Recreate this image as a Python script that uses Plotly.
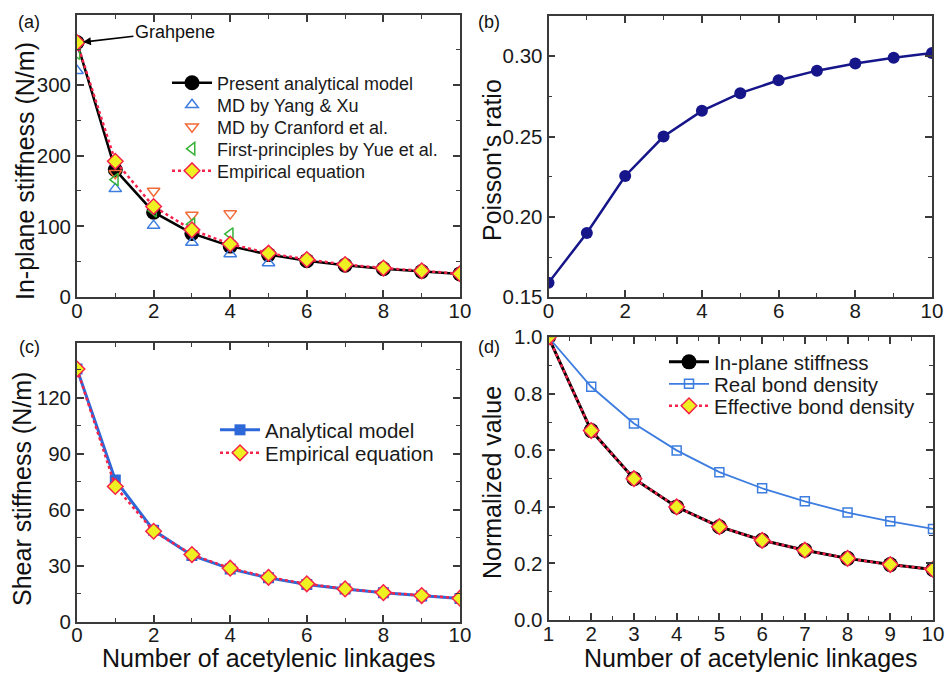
import plotly.graph_objects as go

# ---------------- data ----------------
n_a = [0, 1, 2, 3, 4, 5, 6, 7, 8, 9, 10]
present_model = [360, 180, 120, 90, 72, 60, 51.4, 45, 40, 36, 32.7]
empirical_a = [360, 192, 128, 95, 75, 62, 53, 46, 41, 37, 33]
yang_x = [0, 1, 2, 3, 4, 5]
yang_y = [320, 153, 101, 77, 61, 48]
cranford_x = [1, 2, 3, 4]
cranford_y = [175, 150, 116, 118]
yue_x = [0, 1, 2, 3, 4]
yue_y = [345, 166, 122, 103, 89]

n_b = [0, 1, 2, 3, 4, 5, 6, 7, 8, 9, 10]
poisson = [0.159, 0.190, 0.2255, 0.250, 0.266, 0.277, 0.285, 0.291, 0.2955, 0.299, 0.302]

n_c = [0, 1, 2, 3, 4, 5, 6, 7, 8, 9, 10]
shear_model = [135.5, 76, 49, 35.5, 28.3, 23.5, 20, 17.5, 15.5, 13.8, 12.4]
shear_empirical = [135.5, 72.5, 48.5, 36, 28.7, 23.8, 20.3, 17.6, 15.6, 14, 12.6]

n_d = [1, 2, 3, 4, 5, 6, 7, 8, 9, 10]
inplane_norm = [1.0, 0.67, 0.5, 0.4, 0.33, 0.282, 0.247, 0.218, 0.196, 0.179]
real_bond = [1.0, 0.825, 0.695, 0.60, 0.523, 0.466, 0.42, 0.38, 0.349, 0.322]
effective_bond = [1.0, 0.67, 0.5, 0.4, 0.33, 0.282, 0.247, 0.218, 0.196, 0.179]

# ---------------- styles ----------------
FONT = "Liberation Sans, Arial, sans-serif"
RED = "#f5234b"
YEL = "#eef021"
BLUE_T = "#3d7de0"
ORANGE_T = "#f26b3a"
GREEN_T = "#36b236"
BLUE_C = "#2d68d8"
NAVY = "#16168a"
FRAME = "#3a3a3a"

W, H = 945, 673

def px_x(p):
    return p / W

def px_y(p):
    return 1 - p / H

fig = go.Figure()

# ---- panel (a)
fig.add_trace(go.Scatter(x=n_a, y=present_model, mode="lines+markers", name="Present analytical model",
                         line=dict(color="black", width=2.5),
                         marker=dict(symbol="circle", size=15, color="black"),
                         xaxis="x", yaxis="y", legend="legend"))
fig.add_trace(go.Scatter(x=yang_x, y=yang_y, mode="markers", name="MD by Yang &amp; Xu",
                         marker=dict(symbol="triangle-up-open", size=11, color=BLUE_T, line=dict(width=1.5)),
                         xaxis="x", yaxis="y", legend="legend2"))
fig.add_trace(go.Scatter(x=cranford_x, y=cranford_y, mode="markers", name="MD by Cranford et al.",
                         marker=dict(symbol="triangle-down-open", size=11, color=ORANGE_T, line=dict(width=1.5)),
                         xaxis="x", yaxis="y", legend="legend3"))
fig.add_trace(go.Scatter(x=yue_x, y=yue_y, mode="markers", name="First-principles by Yue et al.",
                         marker=dict(symbol="triangle-left-open", size=11, color=GREEN_T, line=dict(width=1.5)),
                         xaxis="x", yaxis="y", legend="legend4"))
fig.add_trace(go.Scatter(x=n_a, y=empirical_a, mode="lines+markers", name="Empirical equation",
                         line=dict(color=RED, width=2.5, dash="dot"),
                         marker=dict(symbol="diamond", size=12, color=YEL, line=dict(color=RED, width=1.5)),
                         xaxis="x", yaxis="y", legend="legend5"))

# ---- panel (b)
fig.add_trace(go.Scatter(x=n_b, y=poisson, mode="lines+markers", name="Poisson",
                         line=dict(color=NAVY, width=2.5),
                         marker=dict(symbol="circle", size=12, color=NAVY),
                         xaxis="x2", yaxis="y2", showlegend=False))

# ---- panel (c)
fig.add_trace(go.Scatter(x=n_c, y=shear_model, mode="lines+markers", name="Analytical model",
                         line=dict(color=BLUE_C, width=3),
                         marker=dict(symbol="square", size=11, color=BLUE_C),
                         xaxis="x3", yaxis="y3", legend="legend6"))
fig.add_trace(go.Scatter(x=n_c, y=shear_empirical, mode="lines+markers", name="Empirical equation",
                         line=dict(color=RED, width=2.5, dash="dot"),
                         marker=dict(symbol="diamond", size=12, color=YEL, line=dict(color=RED, width=1.5)),
                         xaxis="x3", yaxis="y3", legend="legend7"))

# ---- panel (d)
fig.add_trace(go.Scatter(x=n_d, y=inplane_norm, mode="lines+markers", name="In-plane stiffness",
                         line=dict(color="black", width=3),
                         marker=dict(symbol="circle", size=15, color="black"),
                         xaxis="x4", yaxis="y4", legend="legend8"))
fig.add_trace(go.Scatter(x=n_d, y=real_bond, mode="lines+markers", name="Real bond density",
                         line=dict(color=BLUE_T, width=1.8),
                         marker=dict(symbol="square-open", size=9, color=BLUE_T, line=dict(width=1.5)),
                         xaxis="x4", yaxis="y4", legend="legend9"))
fig.add_trace(go.Scatter(x=n_d, y=effective_bond, mode="lines+markers", name="Effective bond density",
                         line=dict(color=RED, width=2.5, dash="dot"),
                         marker=dict(symbol="diamond", size=12, color=YEL, line=dict(color=RED, width=1.5)),
                         xaxis="x4", yaxis="y4", legend="legend10"))


def axis(domain, rng, dtick, minor, anchor, tick0, fmt=None, is_x=False):
    d = dict(domain=domain, range=rng, dtick=dtick, tick0=tick0, automargin=False,
             ticks="inside", ticklen=7, tickwidth=1.5, tickcolor=FRAME,
             minor=dict(dtick=minor, tick0=tick0, ticks="inside", ticklen=4, tickwidth=1.2,
                        tickcolor=FRAME, showgrid=False),
             showline=True, linewidth=1.8, linecolor=FRAME, mirror="allticks",
             showgrid=False, zeroline=False, anchor=anchor, ticklabeloverflow="allow",
             tickfont=dict(family=FONT, size=20.5, color="#1a1a1a"))
    if is_x:
        d["ticklabelstandoff"] = -6
    if fmt:
        d["tickformat"] = fmt
    return d

xa = [px_x(77), px_x(460)]
xb = [px_x(548.5), px_x(932)]
ya = [px_y(297), px_y(15)]
yc = [px_y(621.7), px_y(342.7)]

layout_axes = dict(
    xaxis=axis(xa, [0, 10], 2, 1, "y", 0, is_x=True),
    yaxis=axis(ya, [0, 399], 100, 50, "x", 0),
    xaxis2=axis(xb, [0, 10], 2, 1, "y2", 0, is_x=True),
    yaxis2=axis([px_y(297.3), px_y(16)], [0.15, 0.325], 0.05, 0.025, "x2", 0.15, ".2f"),
    xaxis3=axis(xa, [0, 10], 2, 1, "y3", 0, is_x=True),
    yaxis3=axis(yc, [0, 149.6], 30, 15, "x3", 0),
    xaxis4=axis([px_x(548.5), px_x(933)], [1, 10], 1, 0.5, "y4", 1, is_x=True),
    yaxis4=axis([px_y(620), px_y(337.3)], [0, 1.0], 0.2, 0.1, "x4", 0, ".1f"),
)

# legends: one per item for exact placement
def leg(xp, yp, size):
    return dict(x=px_x(xp), y=px_y(yp), xanchor="left", yanchor="middle",
                bgcolor="rgba(0,0,0,0)", borderwidth=0, itemwidth=40,
                font=dict(family=FONT, size=size, color="#1a1a1a"))

legends = dict(
    legend=leg(167, 83, 18),
    legend2=leg(167, 105, 18),
    legend3=leg(167, 127, 18),
    legend4=leg(167, 149, 18),
    legend5=leg(167, 171, 18),
    legend6=leg(215, 430, 20.5),
    legend7=leg(215, 453, 20.5),
    legend8=leg(664, 362, 20.5),
    legend9=leg(664, 384, 20.5),
    legend10=leg(664, 406, 20.5),
)

annotations = []
def txt(x, y, s, size, angle=0):
    annotations.append(dict(x=px_x(x), y=px_y(y), xref="paper", yref="paper", text=s, showarrow=False,
                            textangle=angle, xanchor="center", yanchor="middle",
                            font=dict(family=FONT, size=size, color="#111")))

txt(29, 22, "(a)", 18)
txt(489, 22, "(b)", 18)
txt(29, 347, "(c)", 18)
txt(489, 347, "(d)", 18)
txt(25, 171, "In-plane stiffness (N/m)", 25, -90)
txt(492, 160, "Poisson's ratio", 25, -90)
txt(22, 489, "Shear stiffness (N/m)", 25, -90)
txt(492, 483, "Normalized value", 25, -90)
txt(269, 658, "Number of acetylenic linkages", 25)
txt(751, 658, "Number of acetylenic linkages", 25)

annotations.append(dict(x=0.05, y=360, xref="x", yref="y", text="Grahpene", showarrow=True,
                        arrowhead=2, arrowsize=1, arrowwidth=1.6, arrowcolor="black",
                        ax=96, ay=-11, standoff=4, xanchor="center", yanchor="middle",
                        font=dict(family=FONT, size=18, color="#111")))

fig.update_layout(width=W, height=H, margin=dict(l=0, r=0, t=0, b=0, autoexpand=False),
                  paper_bgcolor="white", plot_bgcolor="white",
                  annotations=annotations, **layout_axes, **legends)

fig.write_html("out.html")
